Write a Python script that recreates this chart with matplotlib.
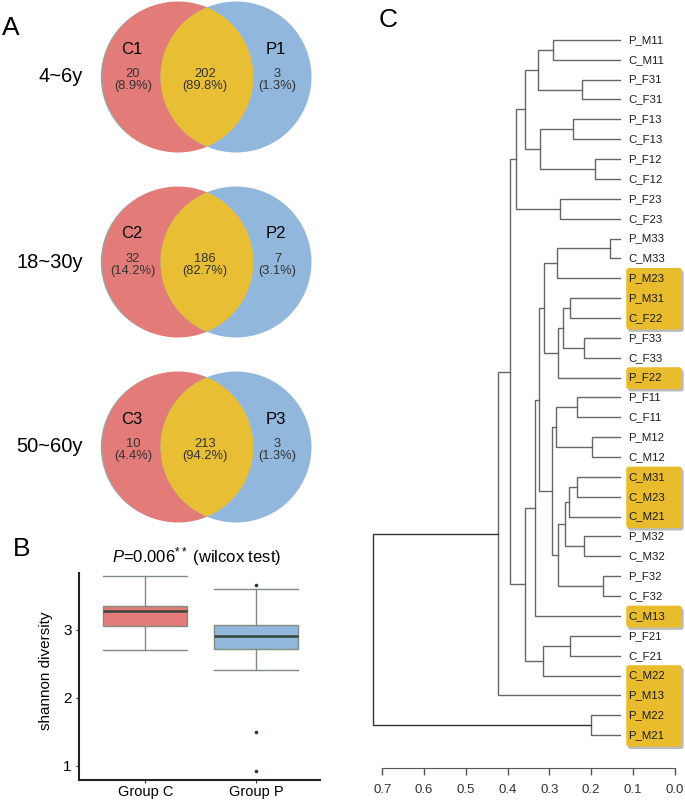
import matplotlib
matplotlib.use("Agg")
import matplotlib.pyplot as plt
from matplotlib.patches import Circle, FancyBboxPatch

plt.rcParams['font.family'] = ['Liberation Sans', 'DejaVu Sans']
plt.rcParams['mathtext.fontset'] = 'custom'
plt.rcParams['mathtext.rm'] = 'Liberation Sans'
plt.rcParams['mathtext.it'] = 'Liberation Sans:italic'

# ---- panel A : venn counts
ages = ["4~6y", "18~30y", "50~60y"]
c_names = ["C1", "C2", "C3"]
p_names = ["P1", "P2", "P3"]
c_only = [20, 32, 10]
shared = [202, 186, 213]
p_only = [3, 7, 3]

# ---- panel B : shannon diversity boxplot stats
groups = ["Group C", "Group P"]
box_whislo = [2.70, 2.41]
box_q1 = [3.05, 2.72]
box_med = [3.27, 2.91]
box_q3 = [3.34, 3.07]
box_whishi = [3.78, 3.60]
box_fliers = [[], [3.66, 1.50, 0.93]]

# ---- panel C : dendrogram (leaves top -> bottom, merges as (a, b, height))
leaves = ["P_M11", "C_M11", "P_F31", "C_F31", "P_F13", "C_F13", "P_F12", "C_F12",
          "P_F23", "C_F23", "P_M33", "C_M33", "P_M23", "P_M31", "C_F22", "P_F33",
          "C_F33", "P_F22", "P_F11", "C_F11", "P_M12", "C_M12", "C_M31", "C_M23",
          "C_M21", "P_M32", "C_M32", "P_F32", "C_F32", "C_M13", "P_F21", "C_F21",
          "C_M22", "P_M13", "P_M22", "P_M21"]
merges = [
    ("P_M11", "C_M11", 0.292),  # 0
    ("P_F31", "C_F31", 0.221),  # 1
    (0, 1, 0.327),              # 2
    ("P_F13", "C_F13", 0.243),  # 3
    ("P_F12", "C_F12", 0.191),  # 4
    (3, 4, 0.322),              # 5
    (2, 5, 0.359),              # 6
    ("P_F23", "C_F23", 0.275),  # 7
    (6, 7, 0.380),              # 8
    ("P_M33", "C_M33", 0.155),  # 9
    (9, "P_M23", 0.282),        # 10
    ("P_M31", "C_F22", 0.251),  # 11
    ("P_F33", "C_F33", 0.217),  # 12
    (11, 12, 0.268),            # 13
    (13, "P_F22", 0.280),       # 14
    (10, 14, 0.312),            # 15
    ("P_F11", "C_F11", 0.235),  # 16
    ("P_M12", "C_M12", 0.199),  # 17
    (16, 17, 0.284),            # 18
    ("C_M31", "C_M23", 0.233),  # 19
    (19, "C_M21", 0.253),       # 20
    ("P_M32", "C_M32", 0.216),  # 21
    (20, 21, 0.263),            # 22
    ("P_F32", "C_F32", 0.172),  # 23
    (22, 23, 0.279),            # 24
    (18, 24, 0.294),            # 25
    (15, 25, 0.324),            # 26
    (26, "C_M13", 0.334),       # 27
    ("P_F21", "C_F21", 0.251),  # 28
    (28, "C_M22", 0.315),       # 29
    (27, 29, 0.358),            # 30
    (8, 30, 0.394),             # 31
    (31, "P_M13", 0.422),       # 32
    ("P_M22", "P_M21", 0.200),  # 33
    (32, 33, 0.7215),           # 34
]
highlighted = ["P_M23", "P_M31", "C_F22", "P_F22", "C_M31", "C_M23", "C_M21",
               "C_M13", "C_M22", "P_M13", "P_M22", "P_M21"]
axis_ticks = [0.7, 0.6, 0.5, 0.4, 0.3, 0.2, 0.1, 0.0]

RED = "#E37C78"
BLUE = "#92B7DD"
YELLOW = "#E8BE35"
HILITE = "#E9BC2E"

W, H = 685, 800
fig = plt.figure(figsize=(6.85, 8), dpi=100)

# ---------------- A
ax_a = fig.add_axes([0, 1 - 530 / H, 330 / W, 530 / H])
ax_a.set_xlim(0, 330)
ax_a.set_ylim(530, 0)
ax_a.axis('off')
for k in range(3):
    cy = 77 + 185 * k
    tot = c_only[k] + shared[k] + p_only[k]
    ax_a.add_patch(Circle((175.3, cy), 74.5, color="#a0a0a0", lw=0))
    red = Circle((178, cy), 75.5, color=RED, lw=0)
    blue = Circle((236, cy), 75.5, color=BLUE, lw=0)
    ax_a.add_patch(red)
    ax_a.add_patch(blue)
    lens = Circle((178, cy), 75.5, color=YELLOW, lw=0)
    ax_a.add_patch(lens)
    lens.set_clip_path(blue)
    ax_a.text(132, cy - 28, c_names[k], fontsize=12, ha='center', va='center')
    ax_a.text(276, cy - 28, p_names[k], fontsize=12, ha='center', va='center')
    for xx, n in [(133, c_only[k]), (205, shared[k]), (277.5, p_only[k])]:
        ax_a.text(xx, cy + 3, f"{n}\n({100 * n / tot:.1f}%)", fontsize=9.3,
                  ha='center', va='center', color='#333333', linespacing=0.95)
    ax_a.text(83, cy, ages[k], fontsize=14.5, ha='right', va='center')

fig.text(2 / W, 1 - 28 / H, "A", fontsize=19, va='center', ha='left')
fig.text(13 / W, 1 - 549 / H, "B", fontsize=19, va='center', ha='left')
fig.text(379 / W, 1 - 20 / H, "C", fontsize=19, va='center', ha='left')

# ---------------- B
ax_b = fig.add_axes([79.3 / W, 20 / H, 240.7 / W, 207 / H])
stats = []
for i, g in enumerate(groups):
    stats.append(dict(label=g, whislo=box_whislo[i], q1=box_q1[i], med=box_med[i],
                      q3=box_q3[i], whishi=box_whishi[i], fliers=box_fliers[i]))
edge = '#7f8c7f'
bp = ax_b.bxp(stats, positions=[1, 2], widths=0.76, capwidths=0.76, patch_artist=True,
              boxprops=dict(edgecolor=edge, lw=1.0),
              whiskerprops=dict(color=edge, lw=1.0),
              capprops=dict(color=edge, lw=1.0),
              medianprops=dict(color='#35453a', lw=1.8),
              flierprops=dict(marker='o', markersize=2.6, markerfacecolor='#2e3a30',
                              markeredgecolor='none'))
for patch, col in zip(bp['boxes'], [RED, BLUE]):
    patch.set_facecolor(col)
ax_b.set_xlim(0.405, 2.577)
ax_b.set_ylim(0.794, 3.83)
ax_b.set_yticks([1, 2, 3])
ax_b.spines['top'].set_visible(False)
ax_b.spines['right'].set_visible(False)
for s in ['left', 'bottom']:
    ax_b.spines[s].set_linewidth(1.5)
    ax_b.spines[s].set_color('#222222')
ax_b.tick_params(axis='y', labelsize=11, length=2.5, pad=3, color='#333333')
ax_b.tick_params(axis='x', labelsize=10.5, length=2, pad=1.5, color='#333333')
ax_b.set_ylabel("shannon diversity", fontsize=11)
ax_b.yaxis.set_label_coords(-0.11, 0.53)
fig.text(197 / W, 1 - 557 / H, r"$\it{P}$=0.006$^{**}$ (wilcox test)", fontsize=12,
         ha='center', va='center')

# ---------------- C
ax_c = fig.add_axes([382.3 / W, (800 - 767.7) / H, 292.4 / W, (767.7 - 20) / H])
ax_c.set_xlim(0.7, 0.0)
ax_c.set_ylim(36.64, -1.0)
LEAF_H = 0.131
pos = {name: (i, LEAF_H) for i, name in enumerate(leaves)}
for k, (a, b, h) in enumerate(merges):
    ya, ha_ = pos[a]
    yb, hb = pos[b]
    col = '#333333' if k == len(merges) - 1 else '#666666'
    ax_c.plot([ha_, h, h, hb], [ya, ya, yb, yb], color=col, lw=1.0, clip_on=False,
              solid_joinstyle='miter')
    pos[k] = ((ya + yb) / 2, h)

# highlight boxes for contiguous runs
idx = sorted(leaves.index(n) for n in highlighted)
runs = []
for i in idx:
    if runs and i == runs[-1][1] + 1:
        runs[-1][1] = i
    else:
        runs.append([i, i])
for i0, i1 in runs:
    for dx, dy, c, z in [(-0.004, 0.12, '#bbbbbb', 1), (0, 0, HILITE, 2)]:
        ax_c.add_patch(FancyBboxPatch((-0.0175 + dx, i0 - 0.52 + dy), 0.1335,
                                      i1 - i0 + 1.1,
                                      boxstyle="round,pad=0,rounding_size=0.007",
                                      mutation_aspect=21, fc=c, ec='none',
                                      clip_on=False, zorder=z))
for i, name in enumerate(leaves):
    ax_c.text(0.112, i, name, fontsize=8.2, ha='left', va='center',
              color='#1a1a1a', clip_on=False, zorder=3)

for s in ['top', 'right', 'left']:
    ax_c.spines[s].set_visible(False)
ax_c.spines['bottom'].set_color('#555555')
ax_c.set_yticks([])
ax_c.set_xticks(axis_ticks)
ax_c.set_xticklabels([f"{t:.1f}" for t in axis_ticks])
ax_c.tick_params(axis='x', length=5, width=1, color='#555555', labelsize=9.5,
                 pad=7, labelcolor='#333333')

fig.savefig("out.png", dpi=100)
